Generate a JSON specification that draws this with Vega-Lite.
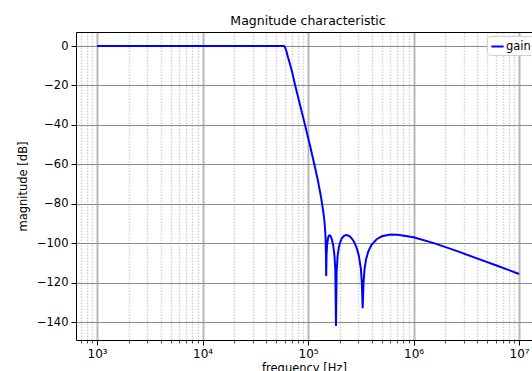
{
  "$schema": "https://vega.github.io/schema/vega-lite/v6.json",
  "autosize": "none",
  "width": 456,
  "height": 308,
  "padding": {"left": 76, "top": 32, "right": 0, "bottom": 31},
  "background": "white",
  "title": {"text": "Magnitude characteristic", "font": "DejaVu Sans", "fontSize": 12.5, "fontWeight": "normal", "color": "black", "anchor": "middle", "dx": 4, "offset": 5},
  "config": {
    "view": {"stroke": null},
    "font": "DejaVu Sans",
    "axis": {"labelFont": "DejaVu Sans", "titleFont": "DejaVu Sans", "labelColor": "black", "titleColor": "black", "titleFontWeight": "normal"}
  },
  "data": {"values": [
    {"f": 1000, "db": 0, "s": "gain"},
    {"f": 3162, "db": 0, "s": "gain"},
    {"f": 10000, "db": 0, "s": "gain"},
    {"f": 31623, "db": 0, "s": "gain"},
    {"f": 50119, "db": 0, "s": "gain"},
    {"f": 56234, "db": 0, "s": "gain"},
    {"f": 58884, "db": 0, "s": "gain"},
    {"f": 60256, "db": -0.5, "s": "gain"},
    {"f": 61660, "db": -1.8, "s": "gain"},
    {"f": 63096, "db": -3.8, "s": "gain"},
    {"f": 64565, "db": -5.8, "s": "gain"},
    {"f": 66069, "db": -7.6, "s": "gain"},
    {"f": 67350, "db": -9.1, "s": "gain"},
    {"f": 70795, "db": -13.5, "s": "gain"},
    {"f": 75110, "db": -19.5, "s": "gain"},
    {"f": 83800, "db": -29.8, "s": "gain"},
    {"f": 93460, "db": -40.0, "s": "gain"},
    {"f": 104230, "db": -50.5, "s": "gain"},
    {"f": 116270, "db": -61.5, "s": "gain"},
    {"f": 124110, "db": -68.5, "s": "gain"},
    {"f": 132530, "db": -76.5, "s": "gain"},
    {"f": 139320, "db": -84, "s": "gain"},
    {"f": 143060, "db": -89, "s": "gain"},
    {"f": 146220, "db": -96, "s": "gain"},
    {"f": 147745, "db": -106, "s": "gain"},
    {"f": 148427, "db": -116.7, "s": "gain"},
    {"f": 149624, "db": -105.6, "s": "gain"},
    {"f": 151356, "db": -100.9, "s": "gain"},
    {"f": 154882, "db": -97.2, "s": "gain"},
    {"f": 158489, "db": -96.1, "s": "gain"},
    {"f": 162181, "db": -96.2, "s": "gain"},
    {"f": 165959, "db": -97.2, "s": "gain"},
    {"f": 169824, "db": -99.0, "s": "gain"},
    {"f": 173780, "db": -101.7, "s": "gain"},
    {"f": 177828, "db": -106.3, "s": "gain"},
    {"f": 181134, "db": -113.3, "s": "gain"},
    {"f": 183865, "db": -142, "s": "gain"},
    {"f": 186209, "db": -115.1, "s": "gain"},
    {"f": 190546, "db": -106.4, "s": "gain"},
    {"f": 194984, "db": -102.6, "s": "gain"},
    {"f": 199526, "db": -100.2, "s": "gain"},
    {"f": 208930, "db": -97.5, "s": "gain"},
    {"f": 218776, "db": -96.3, "s": "gain"},
    {"f": 229087, "db": -95.9, "s": "gain"},
    {"f": 239883, "db": -96.1, "s": "gain"},
    {"f": 251189, "db": -96.8, "s": "gain"},
    {"f": 263027, "db": -98.0, "s": "gain"},
    {"f": 275423, "db": -99.8, "s": "gain"},
    {"f": 288403, "db": -102.3, "s": "gain"},
    {"f": 301995, "db": -106.1, "s": "gain"},
    {"f": 316228, "db": -112.8, "s": "gain"},
    {"f": 323594, "db": -120.3, "s": "gain"},
    {"f": 329241, "db": -133, "s": "gain"},
    {"f": 334965, "db": -120.5, "s": "gain"},
    {"f": 342768, "db": -113.2, "s": "gain"},
    {"f": 354813, "db": -108.1, "s": "gain"},
    {"f": 371535, "db": -104.3, "s": "gain"},
    {"f": 398107, "db": -100.9, "s": "gain"},
    {"f": 446684, "db": -98.0, "s": "gain"},
    {"f": 501187, "db": -96.5, "s": "gain"},
    {"f": 602560, "db": -95.6, "s": "gain"},
    {"f": 707946, "db": -95.7, "s": "gain"},
    {"f": 1000000, "db": -97.0, "s": "gain"},
    {"f": 1584893, "db": -100.1, "s": "gain"},
    {"f": 2511886, "db": -103.8, "s": "gain"},
    {"f": 3981072, "db": -107.7, "s": "gain"},
    {"f": 6309573, "db": -111.6, "s": "gain"},
    {"f": 10000000, "db": -115.6, "s": "gain"}
  ]},
  "resolve": {"axis": {"x": "independent", "y": "independent"}},
  "layer": [
    {
      "mark": {"type": "point", "opacity": 0},
      "encoding": {
        "x": {"field": "f", "type": "quantitative", "scale": {"type": "log", "domain": [630.96, 13258000], "nice": false},
          "axis": {"orient": "top", "title": null, "labels": false, "ticks": false, "grid": false, "domain": true, "domainColor": "black", "domainWidth": 1}},
        "y": {"field": "db", "type": "quantitative", "scale": {"domain": [-149.1, 7.1], "nice": false, "zero": false},
          "axis": {"orient": "right", "title": null, "labels": false, "ticks": false, "grid": false, "domain": false}}
      }
    },
    {
      "mark": {"type": "line", "strokeWidth": 2, "interpolate": "linear"},
      "encoding": {
        "x": {"field": "f", "type": "quantitative", "scale": {"type": "log", "domain": [630.96, 13258000], "nice": false},
          "axis": {
            "orient": "bottom",
            "title": "frequency [Hz]",
            "titleFontSize": 11.5,
            "titlePadding": 3,
            "values": [700, 800, 900, 1000, 2000, 3000, 4000, 5000, 6000, 7000, 8000, 9000, 10000, 20000, 30000, 40000, 50000, 60000, 70000, 80000, 90000, 100000, 200000, 300000, 400000, 500000, 600000, 700000, 800000, 900000, 1000000, 2000000, 3000000, 4000000, 5000000, 6000000, 7000000, 8000000, 9000000, 10000000],
            "labelExpr": "indexof([1000,10000,100000,1000000,10000000], datum.value) >= 0 ? '10' + ['⁰','¹','²','³','⁴','⁵','⁶','⁷','⁸','⁹'][round(log(datum.value)/LN10)] : ''",
            "labelFontSize": 12,
            "labelPadding": 3,
            "labelOverlap": false,
            "labelFlush": false,
            "domainColor": "black",
            "domainWidth": 1,
            "tickColor": "black",
            "tickSize": {"condition": {"test": "indexof([1000,10000,100000,1000000,10000000], datum.value) >= 0", "value": 5}, "value": 3},
            "tickWidth": {"condition": {"test": "indexof([1000,10000,100000,1000000,10000000], datum.value) >= 0", "value": 1}, "value": 0.7},
            "grid": true,
            "gridColor": {"condition": {"test": "indexof([1000,10000,100000,1000000,10000000], datum.value) >= 0", "value": "#b8b8b8"}, "value": "#d2d2d2"},
            "gridWidth": {"condition": {"test": "indexof([1000,10000,100000,1000000,10000000], datum.value) >= 0", "value": 2}, "value": 1.5},
            "gridDash": {"condition": {"test": "indexof([1000,10000,100000,1000000,10000000], datum.value) >= 0", "value": []}, "value": [1.5, 1.5]},
            "gridOpacity": 1
          }},
        "y": {"field": "db", "type": "quantitative", "scale": {"domain": [-149.1, 7.1], "nice": false, "zero": false},
          "axis": {
            "orient": "left",
            "title": "magnitude [dB]",
            "titleFontSize": 11.5,
            "titlePadding": 8,
            "values": [-140, -120, -100, -80, -60, -40, -20, 0],
            "labelFontSize": 11.5,
            "labelPadding": 3,
            "tickSize": 5,
            "tickColor": "black",
            "domainColor": "black",
            "domainWidth": 1,
            "grid": true,
            "gridColor": "#8c8c8c",
            "gridWidth": 1.2
          }},
        "color": {"field": "s", "type": "nominal", "scale": {"range": ["#0000ff"]},
          "legend": {"orient": "none", "legendX": 411, "legendY": 4, "title": null, "symbolType": "stroke", "symbolSize": 150, "symbolStrokeWidth": 2, "labelFontSize": 11.5, "labelFont": "DejaVu Sans", "labelColor": "black", "labelOffset": 1, "padding": 3, "fillColor": "white", "strokeColor": "#d0d0d0", "cornerRadius": 3}}
      }
    }
  ]
}
